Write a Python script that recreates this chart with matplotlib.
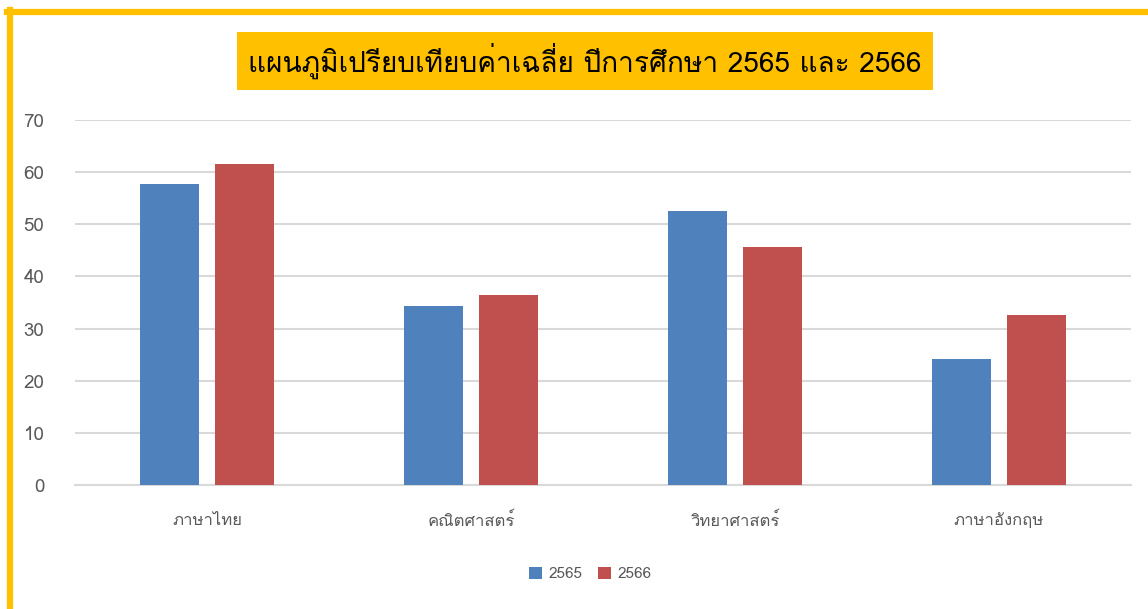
import numpy as np
import matplotlib
matplotlib.use('Agg')
import matplotlib.pyplot as plt
from matplotlib import font_manager
from matplotlib.ft2font import FT2Font

# ข้อมูล
subjects = ['ภาษาไทย', 'คณิตศาสตร์', 'วิทยาศาสตร์', 'ภาษาอังกฤษ']
y2565 = [57.7, 34.4, 52.5, 24.2]
y2566 = [61.5, 36.4, 45.7, 32.6]
years = ['2565', '2566']
title = 'แผนภูมิเปรียบเทียบค่าเฉลี่ย ปีการศึกษา 2565 และ 2566'

# หาฟอนต์ที่มีอักษรไทย
thai_fonts = []
for f in font_manager.fontManager.ttflist:
    try:
        if FT2Font(f.fname).get_char_index(0x0E20) and f.name not in thai_fonts:
            thai_fonts.append(f.name)
    except Exception:
        pass
plt.rcParams['font.family'] = thai_fonts[:1] + ['DejaVu Sans']

fig = plt.figure(figsize=(11.48, 6.09), dpi=100)
ax = fig.add_axes([75/1148, 1-485/609, 1056/1148, 365/609])

x = np.arange(len(subjects))
w = 0.2235
off = 0.142
ax.bar(x - off, y2565, w, color='#4f81bd', label=years[0], zorder=3)
ax.bar(x + off, y2566, w, color='#c0504d', label=years[1], zorder=3)

ax.set_xlim(-0.5, 3.5)
ax.set_ylim(0, 70)
ax.set_yticks(range(0, 71, 10))
ax.yaxis.grid(True, color='#d9d9d9', linewidth=1.5, zorder=0)
for s in ['top', 'right', 'left']:
    ax.spines[s].set_visible(False)
ax.spines['bottom'].set_color('#d9d9d9')
ax.spines['bottom'].set_linewidth(1.5)
ax.tick_params(axis='both', length=0)
ax.tick_params(axis='y', labelsize=13.5, labelcolor='#595959', pad=22)
ax.set_xticks(x)
ax.set_xticklabels(subjects, fontsize=12, color='#595959')
ax.tick_params(axis='x', pad=20)

fig.text(585/1148, 1-61/609, title, fontsize=20.2, ha='center', va='center',
         bbox=dict(boxstyle='square,pad=0.4', facecolor='#ffc000', edgecolor='none'))

ax.legend(loc='center', bbox_to_anchor=(590/1148, 1-574/609), bbox_transform=fig.transFigure,
          ncol=2, frameon=False, fontsize=11, handlelength=0.9, handleheight=0.9,
          columnspacing=1.0, handletextpad=0.4, labelcolor='#595959')

# กรอบสีเหลือง
fig.add_artist(plt.Line2D([7/1148, 1], [1-12/609, 1-12/609], color='#ffc000', linewidth=4.5))
fig.add_artist(plt.Line2D([10/1148, 10/1148], [0, 1-10/609], color='#ffc000', linewidth=4.5))

fig.savefig('out.png', dpi=100)
